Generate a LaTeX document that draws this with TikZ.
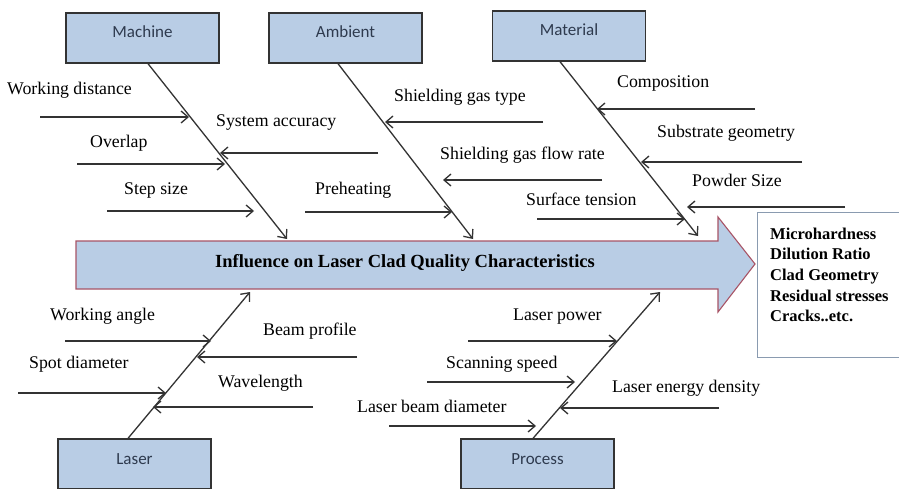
\documentclass[tikz,border=0pt]{standalone}
\usepackage{fontspec}
\setmainfont{Liberation Serif}
\newfontfamily\boxfont{Carlito}
\newfontfamily\factorfont{Liberation Serif}
\usetikzlibrary{arrows.meta}
\definecolor{boxblue}{HTML}{B9CDE5}
\definecolor{edge}{HTML}{333333}
\definecolor{rim}{HTML}{A85466}
\definecolor{resrim}{HTML}{8A9BB0}
\definecolor{boxtext}{HTML}{2E3A4E}

\begin{document}
\begin{tikzpicture}[x=1pt,y=-1pt,
  catbox/.style={draw=edge, line width=1.3pt, fill=boxblue,
    minimum width=153pt, minimum height=50pt, inner sep=0pt},
  catlabel/.style={font=\boxfont\fontsize{17}{20}\selectfont, text=boxtext, inner sep=0pt},
  spine/.style={draw=edge, line width=1.3pt, -{Straight Barb[length=7pt,width=12pt]}},
  rib/.style={draw=edge, line width=1.3pt, -{Straight Barb[length=7pt,width=12pt]}},
  factor/.style={font=\factorfont\fontsize{17.8}{20}\selectfont, text=black, anchor=base west, inner sep=0pt},
  result/.style={font=\factorfont\bfseries\fontsize{16.5}{20}\selectfont, text=black, anchor=base west, inner sep=0pt}]

% page frame
\useasboundingbox[fill=white] (0,0) rectangle (899,489);

% main effect arrow
\draw[rim, line width=1.1pt, fill=boxblue]
  (76,241) -- (718,241) -- (718,217) -- (755,264) -- (718,312) -- (718,289) -- (76,289) -- cycle;
\node[font=\factorfont\bfseries\fontsize{18.5}{22}\selectfont, text=black, inner sep=0pt]
  (effect) at (405,263) {Influence on Laser Clad Quality Characteristics};

% quality characteristics
\node[draw=resrim, line width=1pt, fill=white, minimum width=150pt, minimum height=145pt,
  inner sep=0pt] (resultbox) at (832,284.5) {};
\node[result] (r1) at (770,239) {Microhardness};
\node[result] (r2) at (770,259.5) {Dilution Ratio};
\node[result] (r3) at (770,280) {Clad Geometry};
\node[result] (r4) at (770,301) {Residual stresses};
\node[result] (r5) at (770,321) {Cracks..etc.};

% category boxes
\node[catbox] (machine) at (142.5,38) {};
\node[catlabel] (machinetxt) at (142.5,32) {Machine};
\node[catbox] (ambient) at (345.5,38) {};
\node[catlabel] (ambienttxt) at (345.5,32) {Ambient};
\node[catbox] (material) at (569,36) {};
\node[catlabel] (materialtxt) at (569,30) {Material};
\node[catbox] (laser) at (134.5,464) {};
\node[catlabel] (lasertxt) at (134.5,459) {Laser};
\node[catbox] (process) at (537.5,464) {};
\node[catlabel] (processtxt) at (537.5,459) {Process};

% spines
\coordinate (mhead) at (287,239);
\coordinate (ahead) at (473,239);
\coordinate (thead) at (698,236);
\coordinate (lhead) at (250,292);
\coordinate (phead) at (660,292);
\draw[spine] ([xshift=5.5pt]machine.south) -- (mhead);
\draw[spine] ([xshift=-7.5pt]ambient.south) -- (ahead);
\draw[spine] ([xshift=-9pt]material.south) -- (thead);
\draw[spine] ([xshift=-6.5pt]laser.north) -- (lhead);
\draw[spine] ([xshift=-4.5pt]process.north) -- (phead);

% machine factors
\node[factor] (wd) at (7,95) {Working distance};
\node[factor] (ov) at (90,148) {Overlap};
\node[factor] (ss) at (124,195) {Step size};
\node[factor] (sa) at (216,127) {System accuracy};
\coordinate (wdA) at (40,117);  \coordinate (wdB) at (189,117);
\coordinate (ovA) at (77,164);  \coordinate (ovB) at (225,164);
\coordinate (ssA) at (107,211); \coordinate (ssB) at (254,211);
\coordinate (saA) at (378,153); \coordinate (saB) at (220,153);
\draw[rib] (wdA) -- (wdB);
\draw[rib] (ovA) -- (ovB);
\draw[rib] (ssA) -- (ssB);
\draw[rib] (saA) -- (saB);

% ambient factors
\node[factor] (sg) at (394,102) {Shielding gas type};
\node[factor] (sf) at (440,160) {Shielding gas flow rate};
\node[factor] (ph) at (315,194) {Preheating};
\node[factor] (st) at (526,205) {Surface tension};
\coordinate (sgA) at (543,122); \coordinate (sgB) at (385,122);
\coordinate (sfA) at (602,180); \coordinate (sfB) at (443,180);
\coordinate (phA) at (305,212); \coordinate (phB) at (452,212);
\coordinate (stA) at (537,219); \coordinate (stB) at (685,219);
\draw[rib] (sgA) -- (sgB);
\draw[rib] (sfA) -- (sfB);
\draw[rib] (phA) -- (phB);
\draw[rib] (stA) -- (stB);

% material factors
\node[factor] (co) at (617,88) {Composition};
\node[factor] (sb) at (657,138) {Substrate geometry};
\node[factor] (pw) at (692,187) {Powder Size};
\coordinate (coA) at (755,109); \coordinate (coB) at (597,109);
\coordinate (sbA) at (802,162); \coordinate (sbB) at (641,162);
\coordinate (pwA) at (845,207); \coordinate (pwB) at (687,207);
\draw[rib] (coA) -- (coB);
\draw[rib] (sbA) -- (sbB);
\draw[rib] (pwA) -- (pwB);

% laser factors
\node[factor] (wa) at (50,320) {Working angle};
\node[factor] (bp) at (263,335) {Beam profile};
\node[factor] (sd) at (29,368) {Spot diameter};
\node[factor] (wl) at (218,387) {Wavelength};
\coordinate (waA) at (65,341);  \coordinate (waB) at (211,341);
\coordinate (bpA) at (357,357); \coordinate (bpB) at (197,357);
\coordinate (sdA) at (18,393);  \coordinate (sdB) at (166,393);
\coordinate (wlA) at (313,407); \coordinate (wlB) at (153,407);
\draw[rib] (waA) -- (waB);
\draw[rib] (bpA) -- (bpB);
\draw[rib] (sdA) -- (sdB);
\draw[rib] (wlA) -- (wlB);

% process factors
\node[factor] (lp) at (513,320) {Laser power};
\node[factor] (sp) at (446,368) {Scanning speed};
\node[factor] (bd) at (357,412) {Laser beam diameter};
\node[factor] (ed) at (612,392) {Laser energy density};
\coordinate (lpA) at (468,341); \coordinate (lpB) at (617,341);
\coordinate (spA) at (427,382); \coordinate (spB) at (575,382);
\coordinate (bdA) at (389,426); \coordinate (bdB) at (536,426);
\coordinate (edA) at (719,408); \coordinate (edB) at (560,408);
\draw[rib] (lpA) -- (lpB);
\draw[rib] (spA) -- (spB);
\draw[rib] (bdA) -- (bdB);
\draw[rib] (edA) -- (edB);
\end{tikzpicture}
\end{document}
